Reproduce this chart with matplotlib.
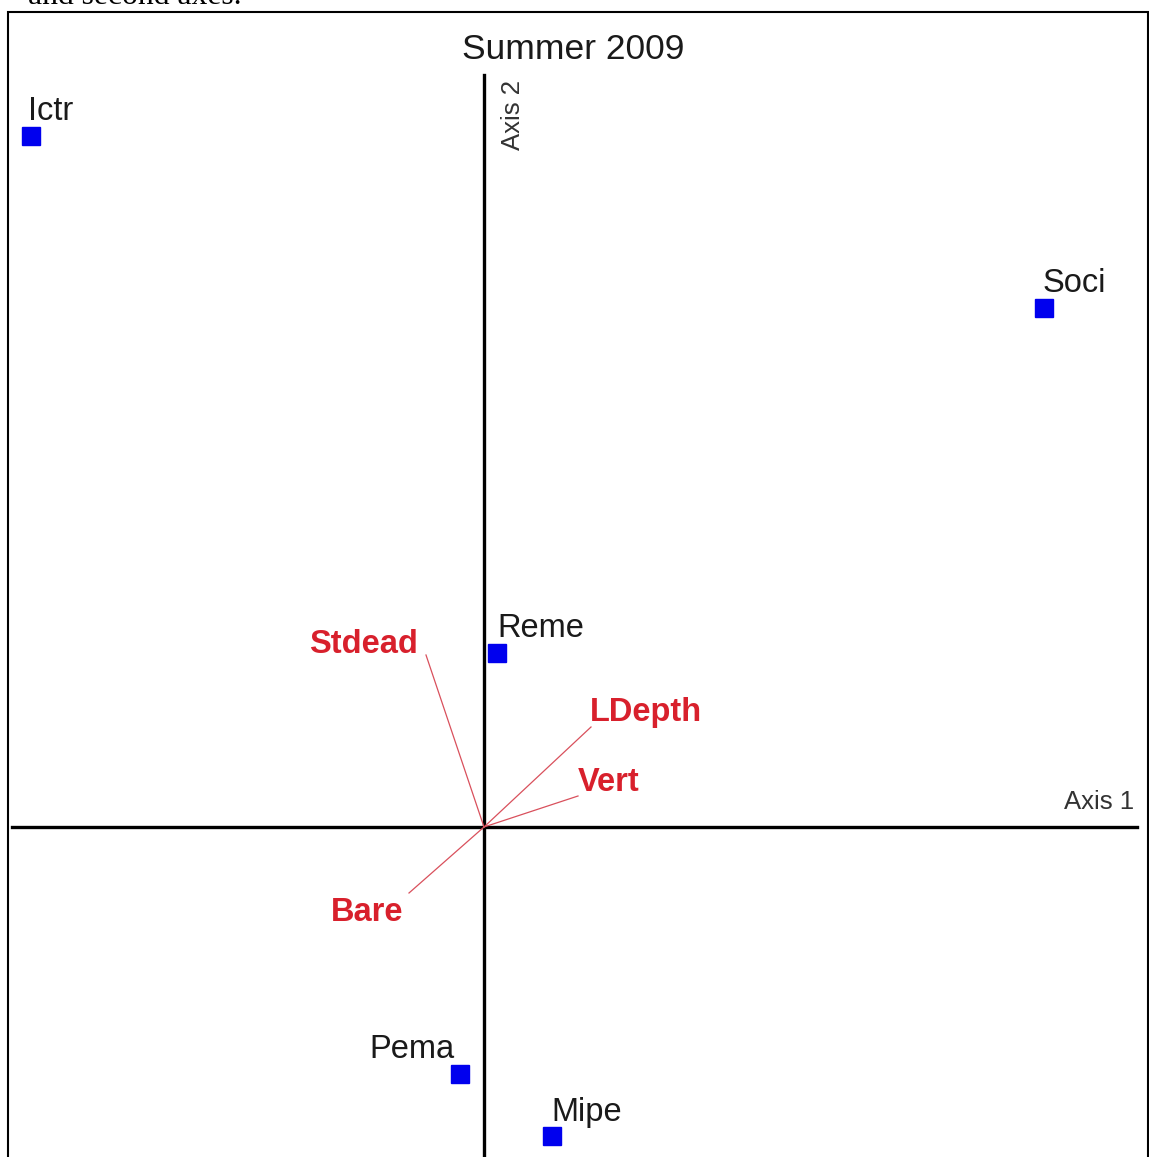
import matplotlib.pyplot as plt
from matplotlib.patches import Rectangle

plt.rcParams['font.family'] = ['Liberation Sans', 'DejaVu Sans']

# species scores (axis 1, axis 2)
species = ["Ictr", "Soci", "Reme", "Pema", "Mipe"]
sp_x = [-4.53, 5.60, 0.13, -0.24, 0.68]
sp_y = [6.91, 5.19, 1.74, -2.47, -3.09]

# environmental vectors
env = ["Stdead", "LDepth", "Vert", "Bare"]
env_x = [-0.58, 1.07, 0.94, -0.75]
env_y = [1.72, 1.00, 0.31, -0.66]

red = "#d8202c"

fig = plt.figure(figsize=(11.49, 11.57), dpi=100)
ax = fig.add_axes([0, 0, 1, 1])
ax.set_xlim(-4.84, 6.65)
ax.set_ylim(-3.30, 8.27)
ax.axis("off")

# axes through origin
ax.axhline(0, xmin=12 / 1149, xmax=1137 / 1149, color="black", lw=2.4)
ax.axvline(0, ymin=0, ymax=(1157 - 75) / 1157, color="black", lw=2.4)

# env vectors and labels
offsets = {"Stdead": (-8, 2, "right"), "LDepth": (-1, 6, "left"),
           "Vert": (0, 5, "left"), "Bare": (-6, -28, "right")}
for name, x, y in zip(env, env_x, env_y):
    ax.plot([0, x], [0, y], color="#d9505c", lw=0.9)
    dx, dy, ha = offsets[name]
    ax.annotate(name, (x, y), xytext=(dx, dy), textcoords="offset pixels",
                ha=ha, va="baseline", color=red, fontsize=23.5,
                fontweight="bold")

# species points
ax.plot(sp_x, sp_y, "s", color="#0000ee", ms=13, mec="#0000ee")
sp_off = {"Ictr": (-3, 16, "left"), "Soci": (-1, 16, "left"),
          "Reme": (0, 16, "left"), "Pema": (-5, 16, "right"),
          "Mipe": (-1, 15, "left")}
for name, x, y in zip(species, sp_x, sp_y):
    dx, dy, ha = sp_off[name]
    ax.annotate(name, (x, y), xytext=(dx, dy), textcoords="offset pixels",
                ha=ha, va="baseline", color="#1a1a1a", fontsize=23.5)

# axis labels and title
fig.text(1134 / 1149, 1 - 809 / 1157, "Axis 1", ha="right", va="baseline",
         fontsize=18.5, color="#333333")
fig.text(513 / 1149, 1 - 115 / 1157, "Axis 2", ha="center", va="center",
         rotation=90, fontsize=18.5, color="#333333")
fig.text(573 / 1149, 1 - 59 / 1157, "Summer 2009", ha="center",
         va="baseline", fontsize=25.5, color="#1a1a1a")

# cut-off caption at the very top
fig.text(28 / 1149, 1 - 4 / 1157, "and second axes.", ha="left",
         va="baseline", fontsize=22.8, color="black",
         family="Liberation Serif")

# frame
fig.add_artist(Rectangle((8 / 1149, -0.01), 1140 / 1149, 1.01 - 12 / 1157,
                         transform=fig.transFigure, fill=False,
                         edgecolor="black", lw=1.5))

fig.savefig("out.png", dpi=100)
